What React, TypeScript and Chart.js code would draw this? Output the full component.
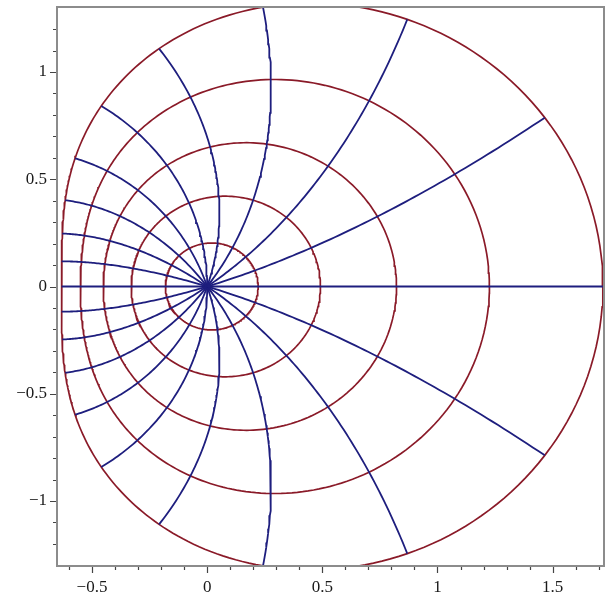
import React, { useEffect, useRef } from "react";
import { Chart, registerables } from "chart.js";

Chart.register(...registerables);

// Conformal plot of w = exp(z) - 1 over a polar grid of the unit disc
const circleRadii = [0.2, 0.4, 0.6, 0.8, 1.0];
const rayAnglesDeg = [0, 18, 36, 54, 72, 90, 108, 126, 144, 162, 180, 198, 216, 234, 252, 270, 288, 306, 324, 342];
const rayLength = 1.0;

const xTickValues = [-0.6, -0.5, -0.4, -0.3, -0.2, -0.1, 0, 0.1, 0.2, 0.3, 0.4, 0.5, 0.6, 0.7, 0.8, 0.9, 1, 1.1, 1.2, 1.3, 1.4, 1.5, 1.6, 1.7];
const yTickValues = [-1.2, -1.1, -1, -0.9, -0.8, -0.7, -0.6, -0.5, -0.4, -0.3, -0.2, -0.1, 0, 0.1, 0.2, 0.3, 0.4, 0.5, 0.6, 0.7, 0.8, 0.9, 1, 1.1, 1.2];
const xMajorTicks = [-0.5, 0, 0.5, 1, 1.5];
const yMajorTicks = [-1, -0.5, 0, 0.5, 1];
const xView = [-0.652, 1.723];
const yView = [-1.303, 1.303];

const CIRCLE_SAMPLES = 360;
const RAY_SAMPLES = 80;

const circleColor = "#8a1a28";
const rayColor = "#1e1e7e";

function mapPoint(r: number, theta: number) {
  const a = r * Math.cos(theta);
  const b = r * Math.sin(theta);
  const e = Math.exp(a);
  return { x: e * Math.cos(b) - 1, y: e * Math.sin(b) };
}

function isMajor(v: number, majors: number[]) {
  return majors.some((m) => Math.abs(m - v) < 1e-9);
}

function fmt(v: number) {
  const s = String(Math.round(Math.abs(v) * 10) / 10);
  return v < -1e-9 ? "\u2212" + s : s;
}

const frameTicksPlugin = {
  id: "frameTicks",
  afterDraw(chart: any) {
    const { ctx, chartArea } = chart;
    const { left, right, top, bottom } = chartArea;
    const xs = chart.scales.x;
    const ys = chart.scales.y;
    ctx.save();
    ctx.strokeStyle = "#444";
    ctx.lineWidth = 1.2;
    ctx.beginPath();
    xTickValues.forEach((v) => {
      const px = Math.round(xs.getPixelForValue(v)) + 0.5;
      const len = isMajor(v, xMajorTicks) ? 7 : 4;
      ctx.moveTo(px, bottom);
      ctx.lineTo(px, bottom + len);
    });
    yTickValues.forEach((v) => {
      const py = Math.round(ys.getPixelForValue(v)) + 0.5;
      const len = isMajor(v, yMajorTicks) ? 7 : 4;
      ctx.moveTo(left, py);
      ctx.lineTo(left - len, py);
    });
    ctx.stroke();
    ctx.strokeStyle = "#8c8c8c";
    ctx.lineWidth = 2;
    ctx.strokeRect(left, top, right - left, bottom - top);
    ctx.restore();
  },
};

export default function App() {
  const ref = useRef<HTMLCanvasElement | null>(null);

  useEffect(() => {
    document.body.style.margin = "0";
    const canvas = ref.current;
    if (!canvas) return;

    const datasets: any[] = [];
    circleRadii.forEach((r) => {
      const pts = [];
      for (let i = 0; i <= CIRCLE_SAMPLES; i++) {
        pts.push(mapPoint(r, (2 * Math.PI * i) / CIRCLE_SAMPLES));
      }
      datasets.push({
        data: pts,
        showLine: true,
        borderColor: circleColor,
        borderWidth: 1.7,
        pointRadius: 0,
        fill: false,
        order: 2,
      });
    });
    rayAnglesDeg.forEach((deg) => {
      const th = (deg * Math.PI) / 180;
      const pts = [];
      for (let i = 0; i <= RAY_SAMPLES; i++) {
        pts.push(mapPoint((rayLength * i) / RAY_SAMPLES, th));
      }
      datasets.push({
        data: pts,
        showLine: true,
        borderColor: rayColor,
        borderWidth: 1.8,
        pointRadius: 0,
        fill: false,
        order: 1,
      });
    });

    const font = { family: "'Liberation Serif', 'DejaVu Serif', serif", size: 17 };

    const chart = new Chart(canvas, {
      type: "scatter",
      data: { datasets },
      plugins: [frameTicksPlugin],
      options: {
        animation: false,
        responsive: false,
        events: [],
        layout: { padding: { top: 7, right: 11, left: 0, bottom: 0 } },
        plugins: { legend: { display: false }, tooltip: { enabled: false } },
        scales: {
          x: {
            type: "linear",
            min: xView[0],
            max: xView[1],
            grid: { display: false, tickLength: 0 },
            border: { display: false },
            afterBuildTicks: (s: any) => {
              s.ticks = xTickValues.map((v) => ({ value: v }));
            },
            afterFit: (s: any) => {
              s.height = 39;
              s.paddingLeft = 0;
              s.paddingRight = 0;
            },
            ticks: {
              autoSkip: false,
              maxRotation: 0,
              padding: 11,
              color: "#1a1a1a",
              font,
              callback: (v: any) => (isMajor(Number(v), xMajorTicks) ? fmt(Number(v)) : ""),
            },
          },
          y: {
            type: "linear",
            min: yView[0],
            max: yView[1],
            grid: { display: false, tickLength: 0 },
            border: { display: false },
            afterBuildTicks: (s: any) => {
              s.ticks = yTickValues.map((v) => ({ value: v }));
            },
            afterFit: (s: any) => {
              s.width = 57;
              s.paddingTop = 0;
              s.paddingBottom = 0;
            },
            ticks: {
              autoSkip: false,
              padding: 10,
              color: "#1a1a1a",
              font,
              callback: (v: any) => (isMajor(Number(v), yMajorTicks) ? fmt(Number(v)) : ""),
            },
          },
        },
      },
    });
    return () => chart.destroy();
  }, []);

  return (
    <div style={{ width: 615, height: 605 }}>
      <canvas ref={ref} width={615} height={605} style={{ display: "block" }} />
    </div>
  );
}
